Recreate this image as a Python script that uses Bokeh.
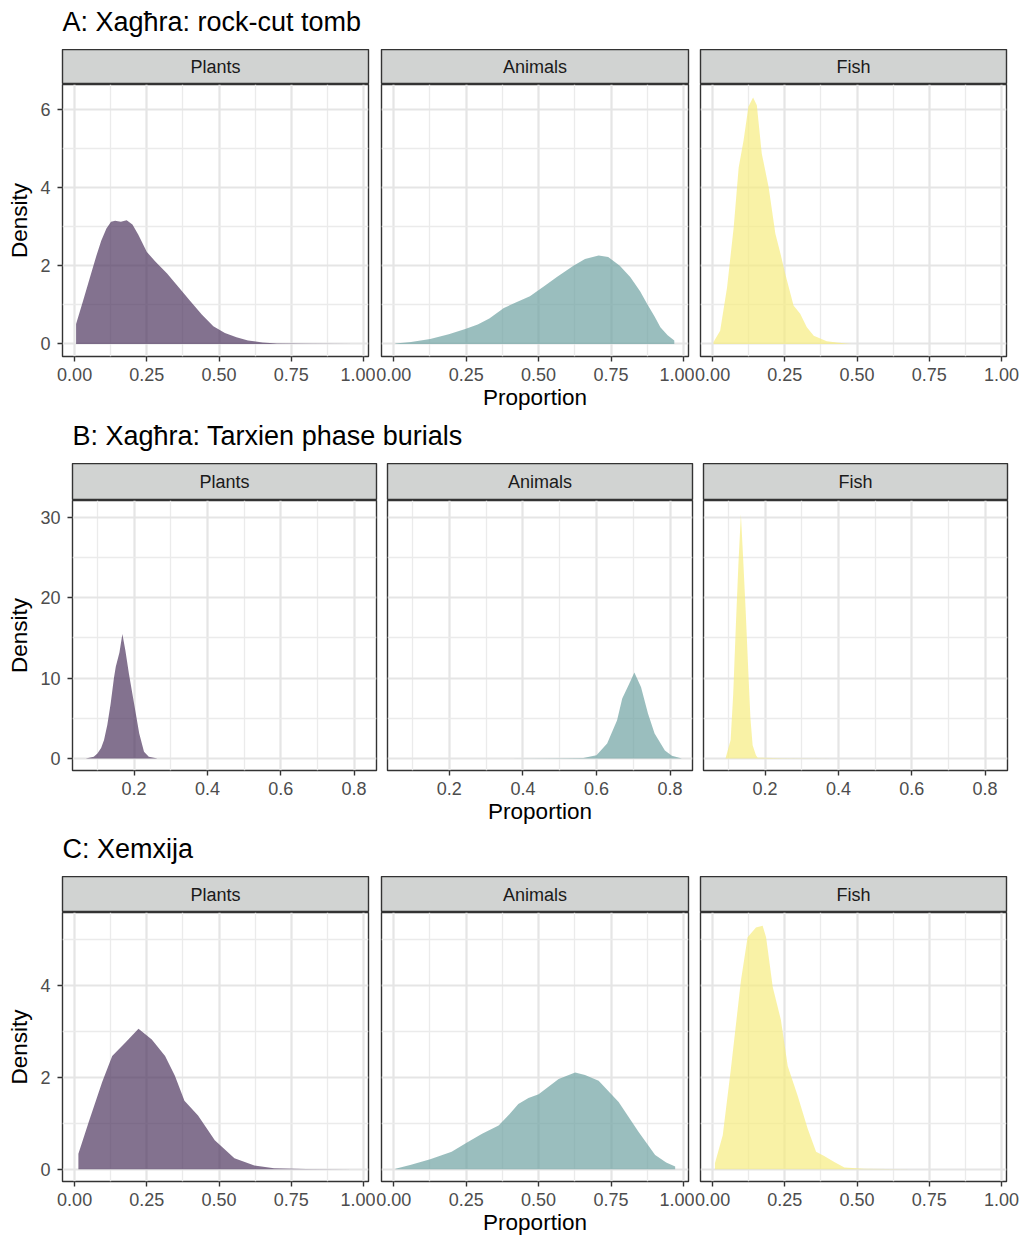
from bokeh.plotting import figure
from bokeh.layouts import column, row
from bokeh.models import Range1d, FixedTicker, LinearAxis, Grid, Label
from bokeh.embed import file_html
from bokeh.resources import INLINE

FONT = "Liberation Sans"

# ---------------- data ----------------
categories = ["Plants", "Animals", "Fish"]
row_titles = ["A: Xagħra: rock-cut tomb", "B: Xagħra: Tarxien phase burials", "C: Xemxija"]
x_title = "Proportion"
y_title = "Density"

# Row A: Xagħra rock-cut tomb
a_plants_x = [0.005, 0.029, 0.057, 0.075, 0.092, 0.11, 0.126, 0.14, 0.16, 0.18, 0.20, 0.22,
              0.25, 0.28, 0.32, 0.36, 0.40, 0.44, 0.48, 0.52, 0.56, 0.60, 0.65, 0.70, 0.80, 0.97]
a_plants_d = [0.51, 1.1, 1.8, 2.25, 2.64, 2.95, 3.12, 3.15, 3.12, 3.16, 3.05, 2.8,
              2.35, 2.1, 1.8, 1.45, 1.1, 0.75, 0.45, 0.28, 0.17, 0.09, 0.04, 0.015, 0.005, 0.0]
a_animals_x = [0.006, 0.06, 0.126, 0.19, 0.247, 0.29, 0.33, 0.38, 0.425, 0.47, 0.52, 0.563, 0.62,
               0.66, 0.707, 0.74, 0.78, 0.816, 0.85, 0.874, 0.90, 0.92, 0.945, 0.968]
a_animals_d = [0.01, 0.05, 0.13, 0.25, 0.38, 0.5, 0.65, 0.92, 1.07, 1.22, 1.48, 1.71, 2.0,
               2.17, 2.26, 2.22, 2.0, 1.71, 1.35, 1.03, 0.7, 0.43, 0.22, 0.09]
a_fish_x = [0.003, 0.026, 0.05, 0.073, 0.09, 0.107, 0.124, 0.14, 0.153, 0.17, 0.194, 0.217, 0.235,
            0.251, 0.28, 0.303, 0.326, 0.35, 0.395, 0.43, 0.46, 0.48]
a_fish_d = [0.05, 0.34, 1.45, 2.99, 4.5, 5.2, 6.07, 6.3, 6.1, 4.87, 4.0, 2.82, 2.3,
            1.8, 0.98, 0.77, 0.43, 0.21, 0.07, 0.04, 0.01, 0.0]

# Row B: Xagħra Tarxien phase burials
b_plants_x = [0.068, 0.09, 0.1, 0.11, 0.118, 0.127, 0.136, 0.145, 0.15, 0.16, 0.168, 0.176, 0.186,
              0.2, 0.214, 0.227, 0.24, 0.264]
b_plants_d = [0.0, 0.2, 0.62, 1.3, 2.3, 4.2, 6.8, 10.0, 11.4, 13.2, 15.5, 13.5, 10.5,
              6.8, 3.1, 0.83, 0.2, 0.0]
b_animals_x = [0.069, 0.3, 0.5, 0.564, 0.6, 0.629, 0.656, 0.67, 0.689, 0.703, 0.721, 0.74, 0.758,
               0.786, 0.805, 0.832]
b_animals_d = [0.0, 0.0, 0.01, 0.05, 0.4, 1.86, 4.76, 7.45, 9.3, 10.7, 8.9, 5.6, 3.1,
               1.0, 0.33, 0.0]
b_fish_x = [0.092, 0.106, 0.113, 0.12, 0.127, 0.134, 0.14, 0.147, 0.155, 0.16, 0.166, 0.175, 0.18,
            0.25, 0.39]
b_fish_d = [0.0, 2.3, 8.0, 16.3, 24.0, 30.4, 25.0, 18.4, 10.0, 5.0, 1.65, 0.4, 0.1,
            0.02, 0.0]

# Row C: Xemxija
c_plants_x = [0.013, 0.049, 0.095, 0.13, 0.175, 0.221, 0.267, 0.313, 0.347, 0.38, 0.427, 0.485,
              0.553, 0.622, 0.69, 0.8, 0.966]
c_plants_d = [0.34, 1.03, 1.89, 2.46, 2.75, 3.05, 2.82, 2.46, 2.03, 1.49, 1.17, 0.63,
              0.24, 0.08, 0.02, 0.005, 0.0]
c_animals_x = [0.006, 0.06, 0.126, 0.2, 0.253, 0.305, 0.362, 0.4, 0.43, 0.465, 0.5, 0.569, 0.626,
               0.66, 0.707, 0.776, 0.845, 0.902, 0.94, 0.971]
c_animals_d = [0.01, 0.1, 0.22, 0.38, 0.58, 0.77, 0.95, 1.2, 1.42, 1.55, 1.63, 1.96, 2.1,
               2.05, 1.92, 1.46, 0.81, 0.31, 0.15, 0.06]
c_fish_x = [0.008, 0.035, 0.063, 0.098, 0.121, 0.15, 0.173, 0.185, 0.208, 0.236, 0.26, 0.294,
            0.329, 0.358, 0.386, 0.421, 0.456, 0.525, 0.686]
c_fish_d = [0.13, 0.74, 2.17, 4.1, 5.04, 5.25, 5.29, 5.04, 3.96, 3.25, 2.24, 1.6,
            0.88, 0.38, 0.29, 0.16, 0.04, 0.01, 0.0]

# ticks
ac_x_ticks = [0.0, 0.25, 0.5, 0.75, 1.0]
ac_x_labels = ["0.00", "0.25", "0.50", "0.75", "1.00"]
ac_x_minor = [0.125, 0.375, 0.625, 0.875]
b_x_ticks = [0.2, 0.4, 0.6, 0.8]
b_x_labels = ["0.2", "0.4", "0.6", "0.8"]
b_x_minor = [0.1, 0.3, 0.5, 0.7]
a_y_ticks = [0, 2, 4, 6]
a_y_labels = ["0", "2", "4", "6"]
a_y_minor = [1, 3, 5]
b_y_ticks = [0, 10, 20, 30]
b_y_labels = ["0", "10", "20", "30"]
b_y_minor = [5, 15, 25]
c_y_ticks = [0, 2, 4]
c_y_labels = ["0", "2", "4"]
c_y_minor = [1, 3, 5]

# ---------------- styling ----------------
FILLS = ["#4E365F", "#6FA3A3", "#F7ED80"]
FILL_ALPHA = 0.7
STRIP_FILL = "#D1D3D2"
BORDER = "#333333"
GRID_MAJOR = "#E5E5E5"
GRID_MINOR = "#EBEBEB"
TICK_TEXT = "#4D4D4D"

TOTAL_W = 1021


def title_fig(text, h, left):
    p = figure(width=TOTAL_W, height=h, x_range=Range1d(0, TOTAL_W), y_range=Range1d(0, h),
               x_axis_type=None, y_axis_type=None, toolbar_location=None,
               output_backend="svg", min_border=0, outline_line_color=None)
    p.add_layout(Label(x=left, y=28, text=text, text_align="left", text_baseline="alphabetic",
                       text_font=FONT, text_font_size="27px", text_color="#000000"))
    return p


def strip_fig(text, w, h, left, right):
    p = figure(width=w, height=h, x_range=Range1d(0, 1), y_range=Range1d(0, 1),
               x_axis_type=None, y_axis_type=None, toolbar_location=None,
               output_backend="svg", min_border_left=left, min_border_right=right,
               min_border_top=0, min_border_bottom=0,
               background_fill_color=STRIP_FILL, outline_line_color=BORDER,
               outline_line_width=1.4)
    p.add_layout(Label(x=0.5, y=0.5, text=text, text_align="center", text_baseline="middle",
                       text_font=FONT, text_font_size="18px", text_color="#1A1A1A"))
    return p


def style_axis(ax):
    ax.axis_line_color = None
    ax.major_tick_line_color = BORDER
    ax.major_tick_line_width = 1.4
    ax.major_tick_out = 5
    ax.major_tick_in = 0
    ax.minor_tick_line_color = None
    ax.major_label_text_font = FONT
    ax.major_label_text_font_size = "18px"
    ax.major_label_text_color = TICK_TEXT
    ax.axis_label_text_font = FONT
    ax.axis_label_text_font_size = "22.5px"
    ax.axis_label_text_font_style = "normal"
    ax.axis_label_text_color = "#000000"


def panel_fig(xs, ds, color, w, left, right, frame_h, bottom, xr, yr,
              xt, xl, xm, yt, yl, ym, show_y, show_xtitle):
    p = figure(width=w, height=frame_h + bottom, x_range=Range1d(*xr), y_range=Range1d(*yr),
               x_axis_type=None, y_axis_type=None, toolbar_location=None,
               output_backend="svg", min_border_left=left, min_border_right=right,
               min_border_top=0, min_border_bottom=bottom,
               background_fill_color="white", outline_line_color=BORDER,
               outline_line_width=1.4)
    gx = Grid(dimension=0, ticker=FixedTicker(ticks=xt, minor_ticks=xm),
              grid_line_color=GRID_MAJOR, grid_line_width=2.2,
              minor_grid_line_color=GRID_MINOR, minor_grid_line_width=1.3)
    gy = Grid(dimension=1, ticker=FixedTicker(ticks=yt, minor_ticks=ym),
              grid_line_color=GRID_MAJOR, grid_line_width=2.2,
              minor_grid_line_color=GRID_MINOR, minor_grid_line_width=1.3)
    p.add_layout(gx)
    p.add_layout(gy)

    xa = LinearAxis(ticker=FixedTicker(ticks=xt, minor_ticks=[]),
                    major_label_overrides=dict(zip(xt, xl)))
    style_axis(xa)
    xa.major_label_standoff = 6
    if show_xtitle:
        xa.axis_label = x_title
        xa.axis_label_standoff = 1
    p.add_layout(xa, "below")

    if show_y:
        ya = LinearAxis(ticker=FixedTicker(ticks=yt, minor_ticks=[]),
                        major_label_overrides=dict(zip(yt, yl)))
        style_axis(ya)
        ya.major_label_standoff = 7
        ya.axis_label = y_title
        ya.axis_label_standoff = 5
        p.add_layout(ya, "left")

    p.varea(x=xs, y1=0, y2=ds, fill_color=color, fill_alpha=FILL_ALPHA)
    return p


def build_row(title, title_h, strip_h, series, widths, lefts, rights, frame_h, bottom, xr, yr,
              xt, xl, xm, yt, yl, ym):
    t = title_fig(title, title_h, lefts[0])
    strips = [strip_fig(categories[i], widths[i], strip_h, lefts[i], rights[i]) for i in range(3)]
    panels = []
    for i in range(3):
        xs, ds = series[i]
        panels.append(panel_fig(xs, ds, FILLS[i], widths[i], lefts[i], rights[i], frame_h,
                                bottom, xr, yr, xt, xl, xm, yt, yl, ym,
                                show_y=(i == 0), show_xtitle=(i == 1)))
    return column(t, row(*strips), row(*panels))


row_a = build_row(row_titles[0], 49, 35,
                  [(a_plants_x, a_plants_d), (a_animals_x, a_animals_d), (a_fish_x, a_fish_d)],
                  [375, 319, 327], [62, 6, 6], [7, 6, 15], 272, 62,
                  (-0.042, 1.017), (-0.32, 6.63),
                  ac_x_ticks, ac_x_labels, ac_x_minor, a_y_ticks, a_y_labels, a_y_minor)
row_b = build_row(row_titles[1], 45, 37,
                  [(b_plants_x, b_plants_d), (b_animals_x, b_animals_d), (b_fish_x, b_fish_d)],
                  [381, 316, 324], [72, 6, 6], [5, 5, 14], 270, 61,
                  (0.032, 0.861), (-1.5, 32.1),
                  b_x_ticks, b_x_labels, b_x_minor, b_y_ticks, b_y_labels, b_y_minor)
row_c = build_row(row_titles[2], 45, 36,
                  [(c_plants_x, c_plants_d), (c_animals_x, c_animals_d), (c_fish_x, c_fish_d)],
                  [375, 319, 327], [62, 6, 6], [7, 6, 15], 271, 54,
                  (-0.042, 1.017), (-0.265, 5.576),
                  ac_x_ticks, ac_x_labels, ac_x_minor, c_y_ticks, c_y_labels, c_y_minor)

layout = column(row_a, row_b, row_c)

open("out.html", "w").write(file_html(layout, INLINE))
